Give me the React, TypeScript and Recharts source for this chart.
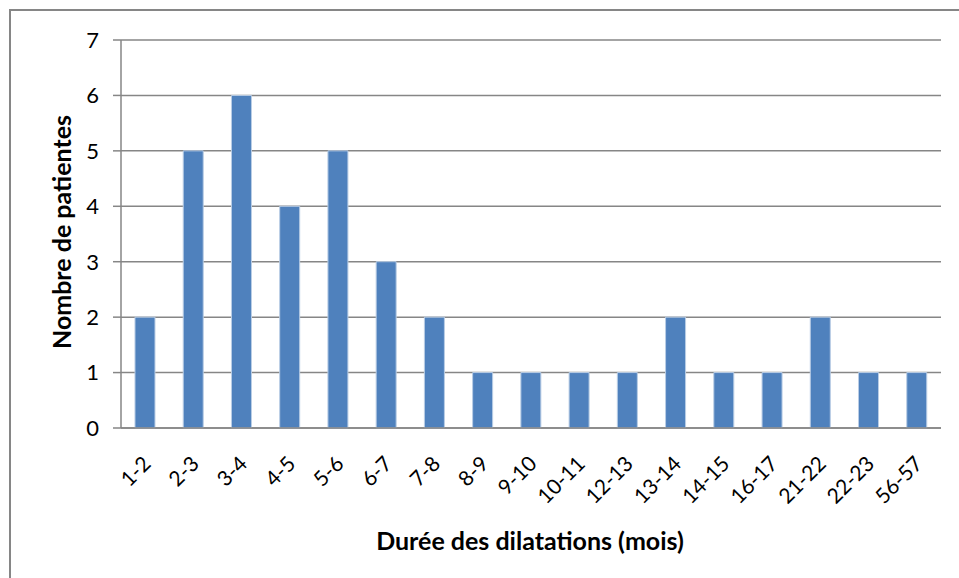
import { BarChart, Bar, XAxis, YAxis, CartesianGrid } from 'recharts';

const categories = ['1-2', '2-3', '3-4', '4-5', '5-6', '6-7', '7-8', '8-9', '9-10', '10-11', '12-13', '13-14', '14-15', '16-17', '21-22', '22-23', '56-57'];
const patientes = [2, 5, 6, 4, 5, 3, 2, 1, 1, 1, 1, 2, 1, 1, 2, 1, 1];
const yTicks = [0, 1, 2, 3, 4, 5, 6, 7];

const data = categories.map((c, i) => ({ duree: c, n: patientes[i] }));

const FONT = 'Lato, "Open Sans", sans-serif';
const GRID = '#868686';

function XTick(props: any) {
  const { x, y, payload } = props;
  return (
    <g transform={`translate(${x + 1},${y + 23})`}>
      <text
        transform="rotate(-45)"
        textAnchor="end"
        dominantBaseline="central"
        fontSize={21}
        fontFamily={FONT}
        fill="#000"
      >
        {payload.value}
      </text>
    </g>
  );
}

export default function App() {
  return (
    <div style={{ position: 'absolute', left: 0, top: 0, width: 959, height: 578, background: '#fff', overflow: 'hidden', fontFamily: FONT }}>
      <div style={{ position: 'absolute', left: 9, top: 9, width: 980, height: 600, border: `2px solid ${GRID}` }} />
      <BarChart
        width={959}
        height={578}
        data={data}
        margin={{ top: 40, right: 18, left: 61, bottom: 60 }}
        barCategoryGap="29%"
        style={{ position: 'absolute', left: 0, top: 0 }}
      >
        <CartesianGrid vertical={false} stroke={GRID} strokeWidth={1.5} />
        <XAxis
          dataKey="duree"
          interval={0}
          height={90}
          tickLine={false}
          axisLine={{ stroke: GRID, strokeWidth: 1.5 }}
          tick={<XTick />}
        />
        <YAxis
          width={60}
          domain={[0, 7]}
          ticks={yTicks}
          interval={0}
          tickSize={8}
          tickMargin={14}
          tickLine={{ stroke: GRID, strokeWidth: 1.5 }}
          axisLine={{ stroke: GRID, strokeWidth: 1.5 }}
          tick={{ fontSize: 22, fill: '#000', fontFamily: FONT }}
        />
        <Bar dataKey="n" fill="#4F81BD" stroke="#B9CDE5" strokeWidth={1} isAnimationActive={false} />
      </BarChart>
      <div
        style={{
          position: 'absolute',
          left: 61,
          top: 232,
          transform: 'translate(-50%, -50%) rotate(-90deg)',
          whiteSpace: 'nowrap',
          fontSize: 25,
          fontWeight: 700,
          color: '#000',
        }}
      >
        Nombre de patientes
      </div>
      <div
        style={{
          position: 'absolute',
          left: 530,
          top: 540,
          transform: 'translate(-50%, -50%)',
          whiteSpace: 'nowrap',
          fontSize: 25,
          fontWeight: 700,
          color: '#000',
        }}
      >
        Durée des dilatations (mois)
      </div>
    </div>
  );
}
